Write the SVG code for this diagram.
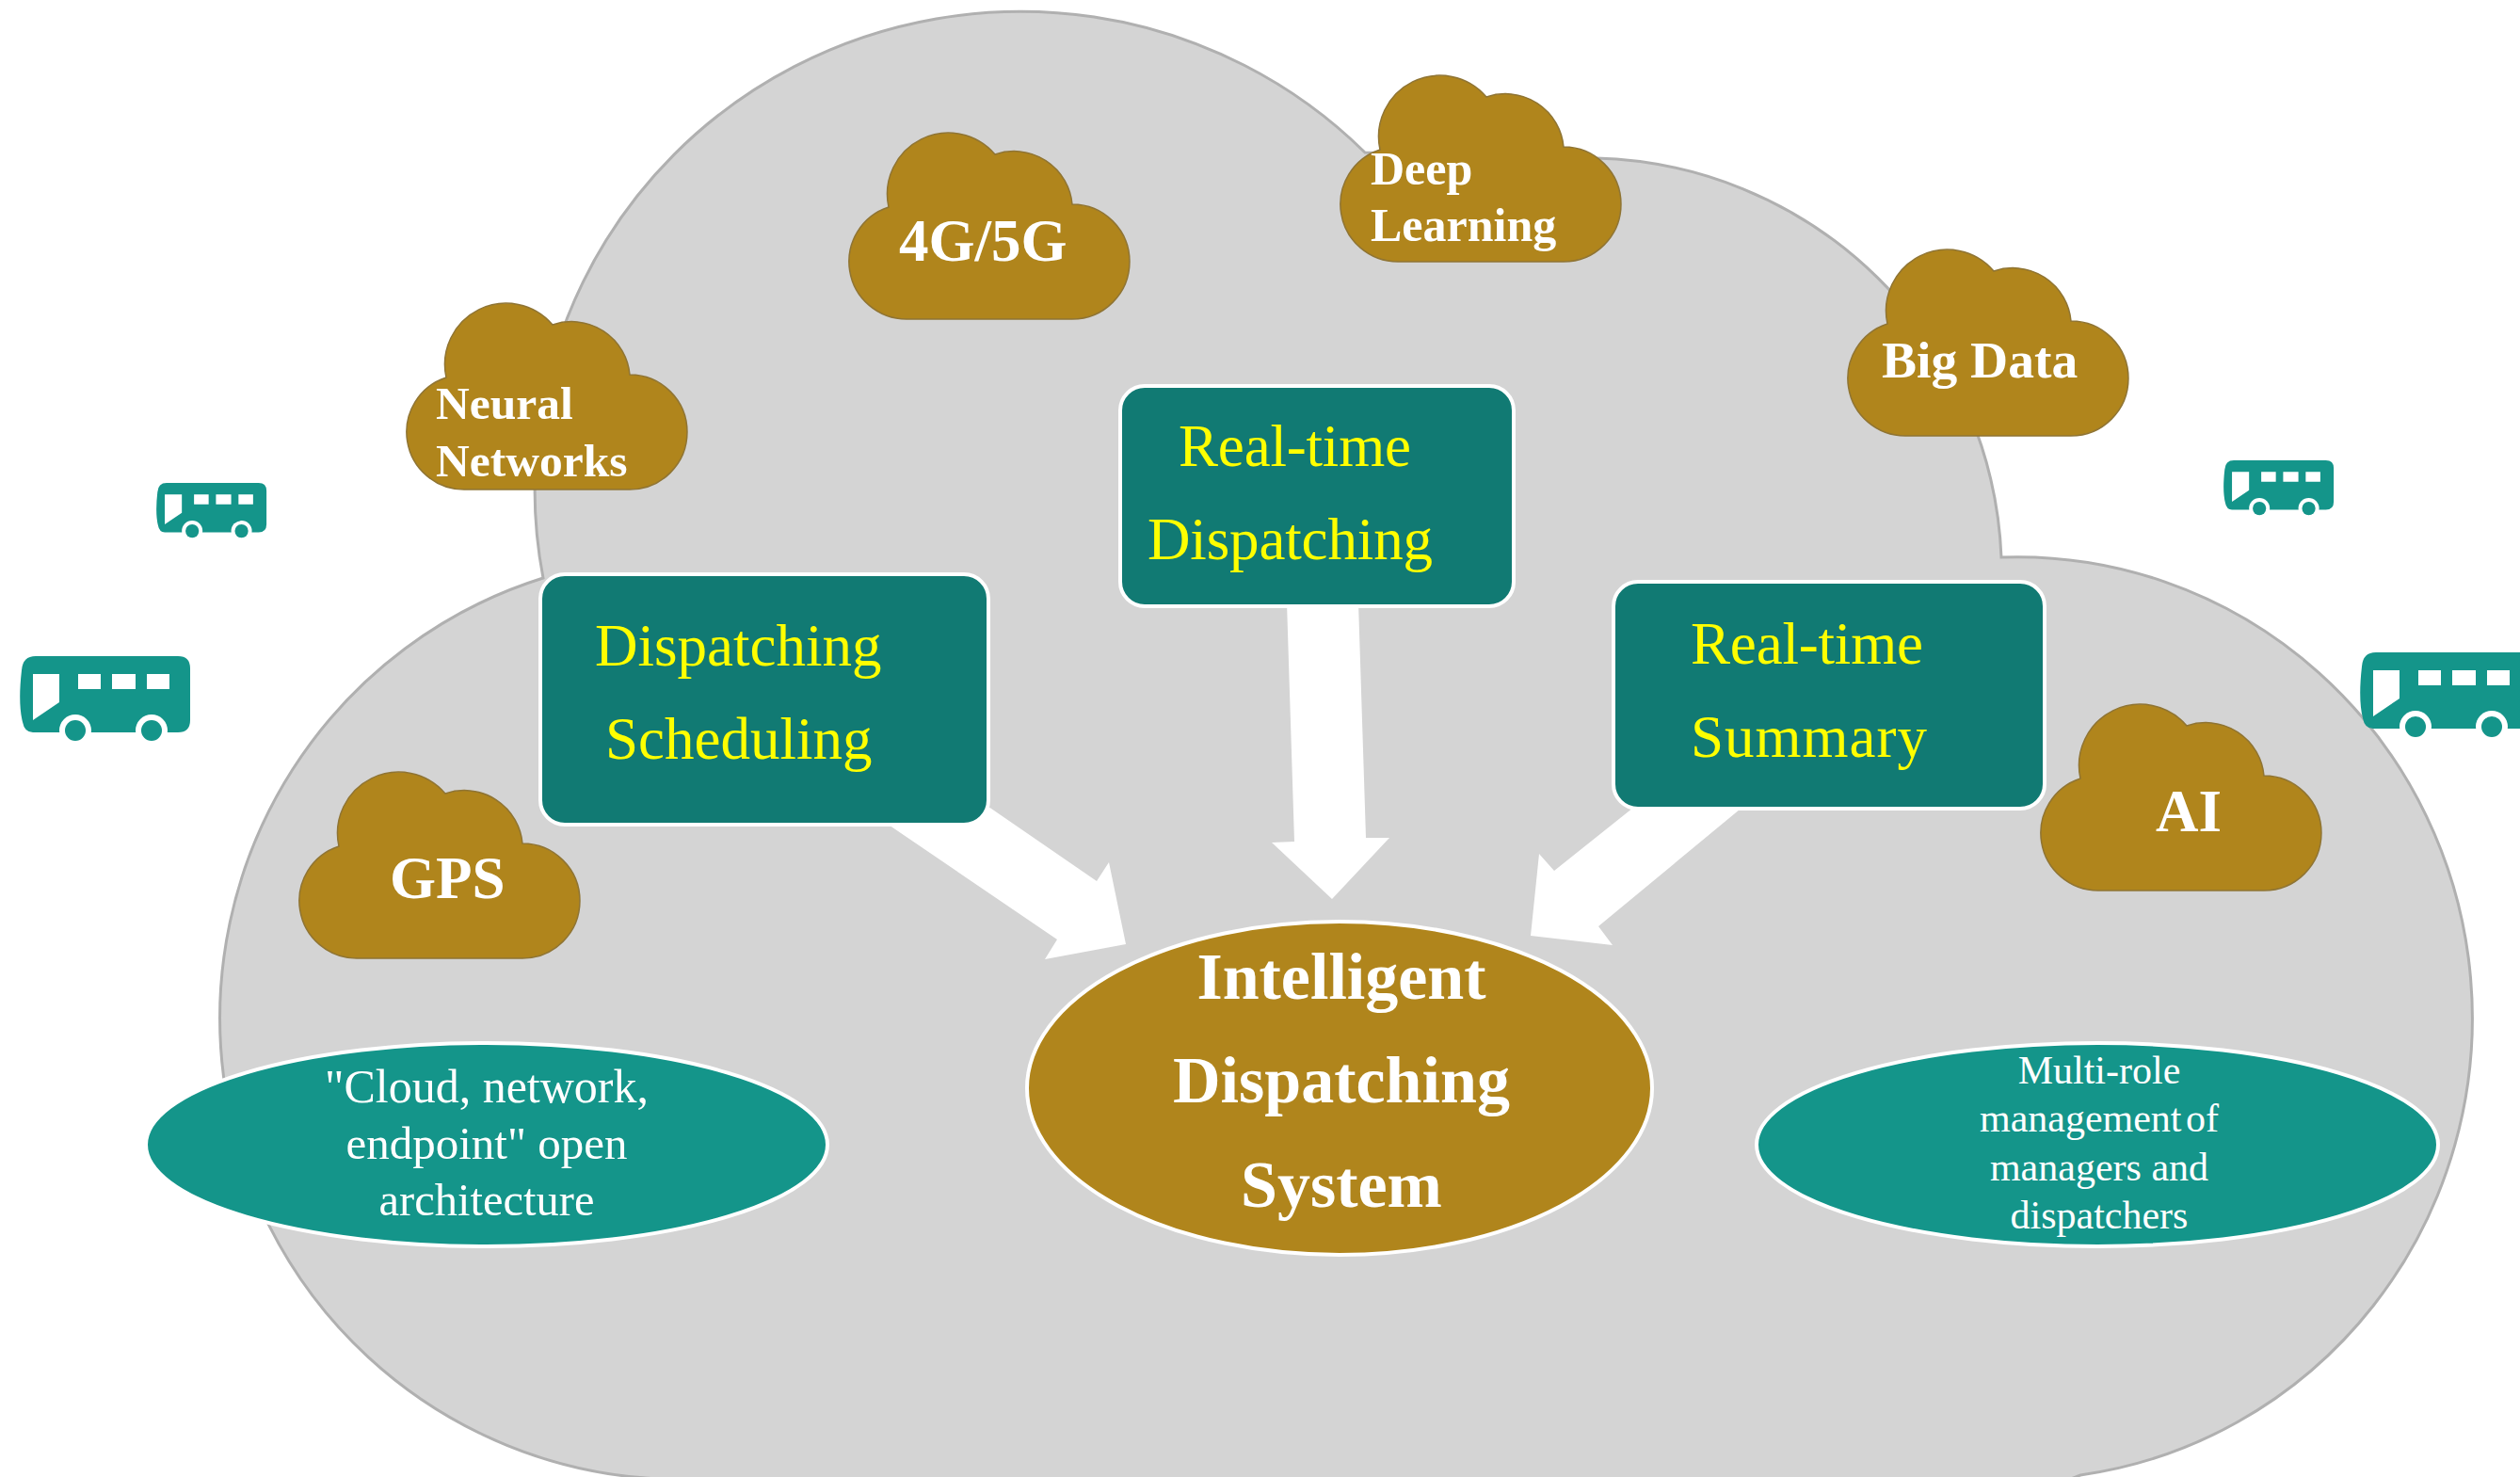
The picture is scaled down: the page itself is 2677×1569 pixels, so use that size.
<svg xmlns="http://www.w3.org/2000/svg" width="2677" height="1569" viewBox="0 0 2677 1569">
<style>
text{font-family:"Liberation Serif","Times New Roman",serif}
.cl{fill:#b0851c;stroke:#8f7433;stroke-width:1.5}
.box{fill:#117a73;stroke:#fff;stroke-width:4}
.el{fill:#14958a;stroke:#fff;stroke-width:4}
.y{fill:#ffff00;font-size:63px}
.w{fill:#fff;font-weight:bold}
.e{fill:#fff;text-anchor:middle}
.arrow{fill:#fff}
</style>
<defs>
<path id="c" d="M61,198 A61,61 0 0 1 42,79 A65,65 0 0 1 155,23 A62,62 0 0 1 237,76 A61,61 0 0 1 237,198 Z"/>
<g id="bus">
<path fill="#14958a" d="M17,0 H168 Q181,0 181,13 V68 Q181,81 168,81 H14 Q5,81 3,70 Q-2,50 2,15 Q3,0 17,0 Z"/>
<path fill="#fff" d="M14,19 H42 V49 L14,68 Z M62,19 H86 V35 H62 Z M98,19 H123 V35 H98 Z M135,19 H159 V35 H135 Z"/>
<circle cx="59" cy="79" r="17" fill="#fff"/><circle cx="140" cy="79" r="17" fill="#fff"/>
<circle cx="59" cy="79" r="11" fill="#14958a"/><circle cx="140" cy="79" r="11" fill="#14958a"/>
</g>
</defs>
<rect width="2677" height="1569" fill="#fff"/>
<path id="bigcloud" fill="#d4d4d4" stroke="#b0b0b0" stroke-width="3" d="M577,614 A516,508 0 0 1 1450,162 L1696,168 A442,442 0 0 1 2126,592 A483,490 0 0 1 2210,1567 L2190,1575 L690,1575 L700,1571 A490,490 0 0 1 577,614 Z"/>
<g id="connectors" class="arrow">
<polygon points="932,868 1123,998 1110,1019 1196,1003 1178,916 1165,936 1040,850"/>
<polygon points="1367,640 1375,894 1351,895 1415,955 1476,890 1451,890 1443,640"/>
<polygon points="1745,850 1651,925 1635,907 1626,994 1713,1004 1698,984 1860,850"/>
</g>
<use href="#bus" x="21" y="697"/>
<use href="#bus" transform="translate(166 513) scale(.647)"/>
<use href="#bus" x="2507" y="693"/>
<use href="#bus" transform="translate(2362 489) scale(.647)"/>
<g id="neural"><use href="#c" class="cl" x="432" y="322"/><text class="w" font-size="49.5" x="463" y="445">Neural</text><text class="w" font-size="49.5" x="463" y="506">Networks</text></g>
<g id="net45"><use href="#c" class="cl" x="902" y="141"/><text class="w" font-size="63" x="955" y="277">4G/5G</text></g>
<g id="deep"><use href="#c" class="cl" x="1424" y="80"/><text class="w" font-size="50" x="1456" y="196">Deep</text><text class="w" font-size="50" x="1456" y="256">Learning</text></g>
<g id="bigdata"><use href="#c" class="cl" x="1963" y="265"/><text class="w" font-size="55.5" x="1999" y="401">Big Data</text></g>
<g id="gps"><use href="#c" class="cl" x="318" y="820"/><text class="w" font-size="63" x="414" y="954">GPS</text></g>
<g id="ai"><use href="#c" class="cl" x="2168" y="748"/><text class="w" font-size="63" x="2290" y="883">AI</text></g>
<g id="scheduling"><rect class="box" x="574" y="610" width="476" height="266" rx="26"/><text class="y" x="632" y="707">Dispatching</text><text class="y" x="643" y="806">Scheduling</text></g>
<g id="realdisp"><rect class="box" x="1190" y="410" width="418" height="234" rx="26"/><text class="y" x="1252" y="495" textLength="247">Real-time</text><text class="y" x="1219" y="594" textLength="303">Dispatching</text></g>
<g id="summary"><rect class="box" x="1714" y="618" width="458" height="241" rx="26"/><text class="y" x="1796" y="705" textLength="247">Real-time</text><text class="y" x="1796" y="804" textLength="251">Summary</text></g>
<g id="system"><ellipse cx="1423" cy="1156" rx="332" ry="177" fill="#b0851c" stroke="#fff" stroke-width="4"/>
<text class="w" font-size="70" text-anchor="middle" x="1425" y="1061">Intelligent</text><text class="w" font-size="70" text-anchor="middle" x="1425" y="1171">Dispatching</text><text class="w" font-size="70" text-anchor="middle" x="1425" y="1282">System</text></g>
<g id="cloudnet"><ellipse class="el" cx="517" cy="1216" rx="362" ry="108"/><text class="e" font-size="50" x="517" y="1171">"Cloud, network,</text><text class="e" font-size="49" x="517" y="1231">endpoint" open</text><text class="e" font-size="48.5" x="517" y="1291">architecture</text></g>
<g id="multirole"><ellipse class="el" cx="2228" cy="1216" rx="362" ry="108"/><text class="e" font-size="42" x="2230" y="1151">Multi-role</text><text class="e" font-size="42" x="2230" y="1202" word-spacing="-6">management of</text><text class="e" font-size="42" x="2230" y="1254">managers and</text><text class="e" font-size="42" x="2230" y="1305">dispatchers</text></g>
</svg>
